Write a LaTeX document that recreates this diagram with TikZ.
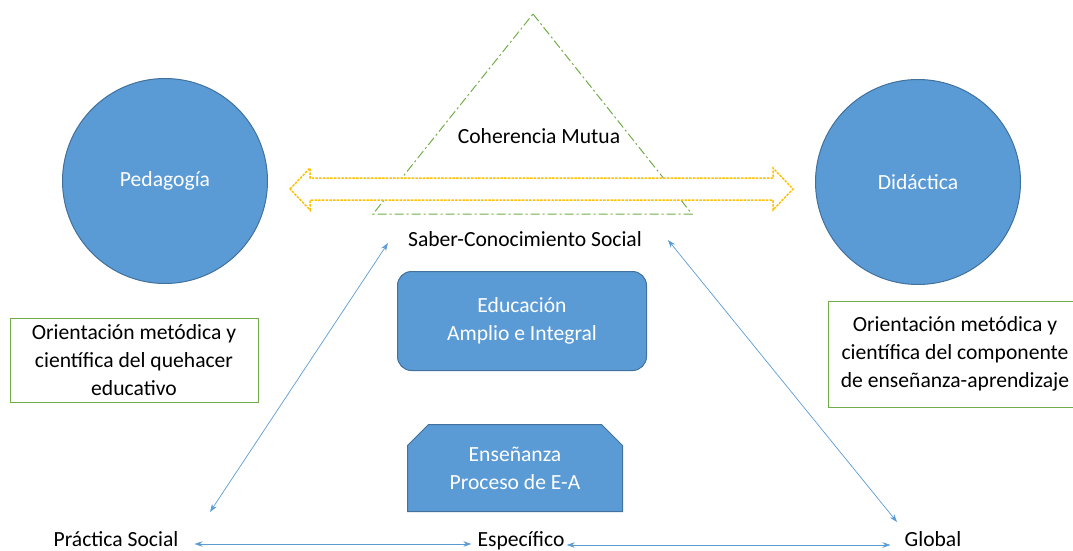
\documentclass[tikz,border=0pt]{standalone}
\usepackage{fontspec}
\setmainfont{Carlito}
\usetikzlibrary{arrows.meta,shapes.misc}
\definecolor{azul}{HTML}{5B9BD5}
\definecolor{azulborde}{HTML}{41719C}
\definecolor{verde}{HTML}{70AD47}
\definecolor{amarillo}{HTML}{FFC000}

\begin{document}
\begin{tikzpicture}[x=1pt,y=-1pt,
  txt/.style={font=\fontsize{21.6}{28}\selectfont,align=center,inner sep=2pt},
  circ/.style={txt,circle,fill=azul,draw=azulborde,line width=1pt,minimum size=205pt,text=white},
  caja/.style={txt,fill=azul,draw=azulborde,line width=1pt,text=white},
  marco/.style={txt,draw=verde,line width=0.8pt},
  enlace/.style={azul,line width=0.7pt,{Stealth[length=8pt,width=5.5pt]}-{Stealth[length=8pt,width=5.5pt]}}]
\useasboundingbox (0,0) rectangle (1073,551);
\node (ped) at (165,181) [circ] {Pedagogía};
\node (did) at (918,182) [circ] {Didáctica};
\draw [verde,line width=1pt,dash pattern=on 9pt off 3pt on 2pt off 3pt] (533,14) -- (692,214) -- (373,214) -- cycle;
\draw [amarillo,fill=white,line width=1.5pt,dash pattern=on 2.5pt off 1.2pt] (290,189) -- (310,168) -- (310,178) -- (773,178) -- (773,168) -- (793,189) -- (773,210) -- (773,200) -- (310,200) -- (310,210) -- cycle;
\node (coh) at (539,136) [txt] {Coherencia Mutua};
\node (saber) at (525,239) [txt] {Saber-Conocimiento Social};
\node (edu) at (522,321) [caja,rounded corners=14pt,minimum width=249pt,minimum height=99pt] {Educación\\Amplio e Integral};
\node (ens) at (515,468) [caja,chamfered rectangle,chamfered rectangle corners={north west,north east},chamfered rectangle xsep=9pt,chamfered rectangle ysep=12pt,minimum width=215pt,minimum height=87pt] {Enseñanza\\Proceso de E-A};
\node (izq) at (134,360) [marco,minimum width=248pt,minimum height=84pt] {Orientación metódica y\\científica del quehacer\\educativo};
\draw [verde,line width=0.8pt] (1080,301) -- (828,301) -- (828,407) -- (1080,407);
\node (der) at (955,354) [txt] {Orientación metódica y\\científica del componente\\de enseñanza-aprendizaje};
\node (prac) at (116,539) [txt] {Práctica Social};
\node (esp) at (521,541) [txt] {Específico};
\node (glob) at (933,539) [txt] {Global};
\coordinate (s1) at (388,243);
\coordinate (p1) at (210,512);
\coordinate (s2) at (668,240);
\coordinate (g1) at (897,522);
\draw [enlace] (s1) -- (p1);
\draw [enlace] (s2) -- (g1);
\draw [enlace,shorten <=14pt,shorten >=4pt] (prac.east |- 0,544) -- (esp.west |- 0,544);
\draw [enlace,shorten >=12pt] (esp.east |- 0,545) -- (glob.west |- 0,545);
\end{tikzpicture}
\end{document}
